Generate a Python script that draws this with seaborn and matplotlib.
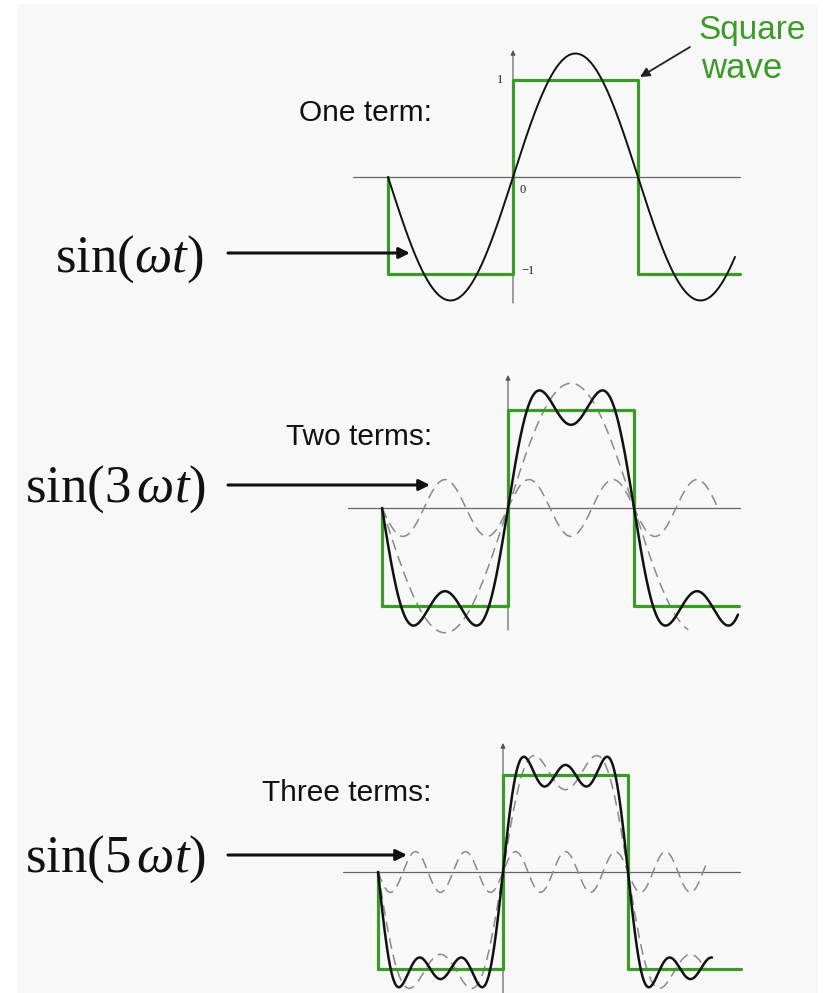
import numpy as np
import matplotlib
matplotlib.use("Agg")
import matplotlib.pyplot as plt
from matplotlib.patches import Rectangle
import seaborn as sns

sns.set_theme(style="white")
plt.rcParams["font.family"] = ["Liberation Sans", "DejaVu Sans"]
plt.rcParams["mathtext.fontset"] = "custom"
plt.rcParams["mathtext.rm"] = "Liberation Serif"
plt.rcParams["mathtext.it"] = "Liberation Serif:italic"

# ---- data -----------------------------------------------------------------
# Fourier series of a unit square wave: odd harmonics and their coefficients
harmonics = [1, 3, 5]
term_coefficients = [1.273, 0.424, 0.255]
# amplitude of the newly added harmonic as drawn (dashed) in panels 2 and 3
added_harmonic_amplitudes = [None, 0.29, 0.21]

panel_titles = ["One term:", "Two terms:", "Three terms:"]
harmonic_labels = [r"$\sin(\omega t)$", r"$\sin(3\,\omega t)$", r"$\sin(5\,\omega t)$"]

# square wave corners (time in units of pi), last time is per-panel end
square_t = [-1.0, -1.0, 0.0, 0.0, 1.0, 1.0]
square_levels = [0, -1, -1, 1, 1, -1, -1]
square_end = [1.816, 1.833, 1.90]

# time ranges (units of pi) of each drawn curve
sum_end = [1.776, 1.825, 1.672]
prev_sum_end = [None, 1.43, 1.62]
harmonic_end = [None, 1.667, 1.64]

tick_values = [1, 0, -1]
tick_texts = ["1", "0", "\u22121"]

# ---- styling / layout -------------------------------------------------------
W, H = 823, 993
GREEN = "#3c9a28"
origin_x = [513, 508, 503]
origin_y = [177, 508, 872]
half_period_px = [125, 126, 125]
unit_px = [97, 98, 97]
haxis_px = [(353, 740), (348, 740), (343, 740)]
vaxis_px = [(50, 303), (375, 630), (743, 993)]

fig = plt.figure(figsize=(W / 100, H / 100), dpi=100, facecolor="white")
fig.add_artist(Rectangle((17 / W, 0), (818 - 17) / W, 1 - 4 / H,
                         transform=fig.transFigure, facecolor="#f8f8f8",
                         edgecolor="none", zorder=-10))


def partial_sum(t, n_terms):
    s = np.zeros_like(t)
    for k in range(n_terms):
        s += term_coefficients[k] * np.sin(harmonics[k] * np.pi * t)
    return s


for i in range(3):
    ox, oy, hp, u = origin_x[i], origin_y[i], half_period_px[i], unit_px[i]
    left, right = 330, 770
    top, bottom = oy - 140, min(oy + 135, H)
    ax = fig.add_axes([left / W, 1 - bottom / H, (right - left) / W, (bottom - top) / H])
    ax.set_xlim((left - ox) / hp, (right - ox) / hp)
    ax.set_ylim((oy - bottom) / u, (oy - top) / u)
    ax.axis("off")
    ax.patch.set_alpha(0)

    # coordinate axes
    hx0, hx1 = haxis_px[i]
    ax.plot([(hx0 - ox) / hp, (hx1 - ox) / hp], [0, 0], color="#666666", lw=0.9, zorder=1)
    vy0, vy1 = vaxis_px[i]
    ax.annotate("", xy=(0, (oy - vy0) / u), xytext=(0, (oy - vy1) / u),
                arrowprops=dict(arrowstyle="-|>", color="#555555", lw=0.8,
                                mutation_scale=7, shrinkA=0, shrinkB=0),
                annotation_clip=False, zorder=1)

    # dashed: previous partial sum and the newly added harmonic
    if i > 0:
        tp = np.linspace(-1, prev_sum_end[i], 800)
        sns.lineplot(x=tp, y=partial_sum(tp, i), ax=ax, color="#8a8a8a", lw=1.1,
                     linestyle=(0, (7, 4)), sort=False, estimator=None, zorder=2)
        th = np.linspace(-1, harmonic_end[i], 800)
        sns.lineplot(x=th, y=added_harmonic_amplitudes[i] * np.sin(harmonics[i] * np.pi * th),
                     ax=ax, color="#8a8a8a", lw=1.1, linestyle=(0, (7, 4)),
                     sort=False, estimator=None, zorder=2)

    # square wave
    sq_t = square_t + [square_end[i]]
    sns.lineplot(x=sq_t, y=square_levels, ax=ax, color=GREEN, lw=2.3,
                 sort=False, estimator=None, zorder=3)

    # partial sum with i+1 terms
    ts = np.linspace(-1, sum_end[i], 1200)
    sns.lineplot(x=ts, y=partial_sum(ts, i + 1), ax=ax, color="#111111",
                 lw=1.4 if i == 0 else 1.8, sort=False, estimator=None, zorder=4)

    if i == 0:
        tick_pos = {1: (-0.104, 1.0), 0: (0.08, -0.134), -1: (0.12, -0.97)}
        for v, txt in zip(tick_values, tick_texts):
            x, y = tick_pos[v]
            ax.text(x, y, txt, ha="center", va="center", fontsize=9,
                    family="Liberation Serif", color="#222222")

# overlay for annotations in pixel units
ov = fig.add_axes([0, 0, 1, 1])
ov.set_xlim(0, W)
ov.set_ylim(H, 0)
ov.axis("off")
ov.patch.set_alpha(0)

title_y = [113, 437, 793]
label_baseline = [272, 502, 872]
arrow_y = [253, 485, 855]
arrow_tip = [410, 430, 407]
label_x = [55, 25, 25]
for i in range(3):
    ov.text(432, title_y[i], panel_titles[i], ha="right", va="center",
            fontsize=21.5, color="#111111")
    ov.text(label_x[i], label_baseline[i], harmonic_labels[i], ha="left",
            va="baseline", fontsize=38, color="#111111")
    ov.annotate("", xy=(arrow_tip[i], arrow_y[i]), xytext=(228, arrow_y[i]),
                arrowprops=dict(arrowstyle="-|>", color="#111111", lw=2.2,
                                mutation_scale=16, shrinkA=0, shrinkB=0))

ov.text(698, 30, "Square", ha="left", va="center", fontsize=24, color=GREEN)
ov.text(701, 68, "wave", ha="left", va="center", fontsize=25, color=GREEN)
ov.annotate("", xy=(640, 77), xytext=(690, 47),
            arrowprops=dict(arrowstyle="-|>", color="#222222", lw=1.3,
                            mutation_scale=14, shrinkA=0, shrinkB=0))

fig.savefig("out.png", dpi=100, facecolor="white")
